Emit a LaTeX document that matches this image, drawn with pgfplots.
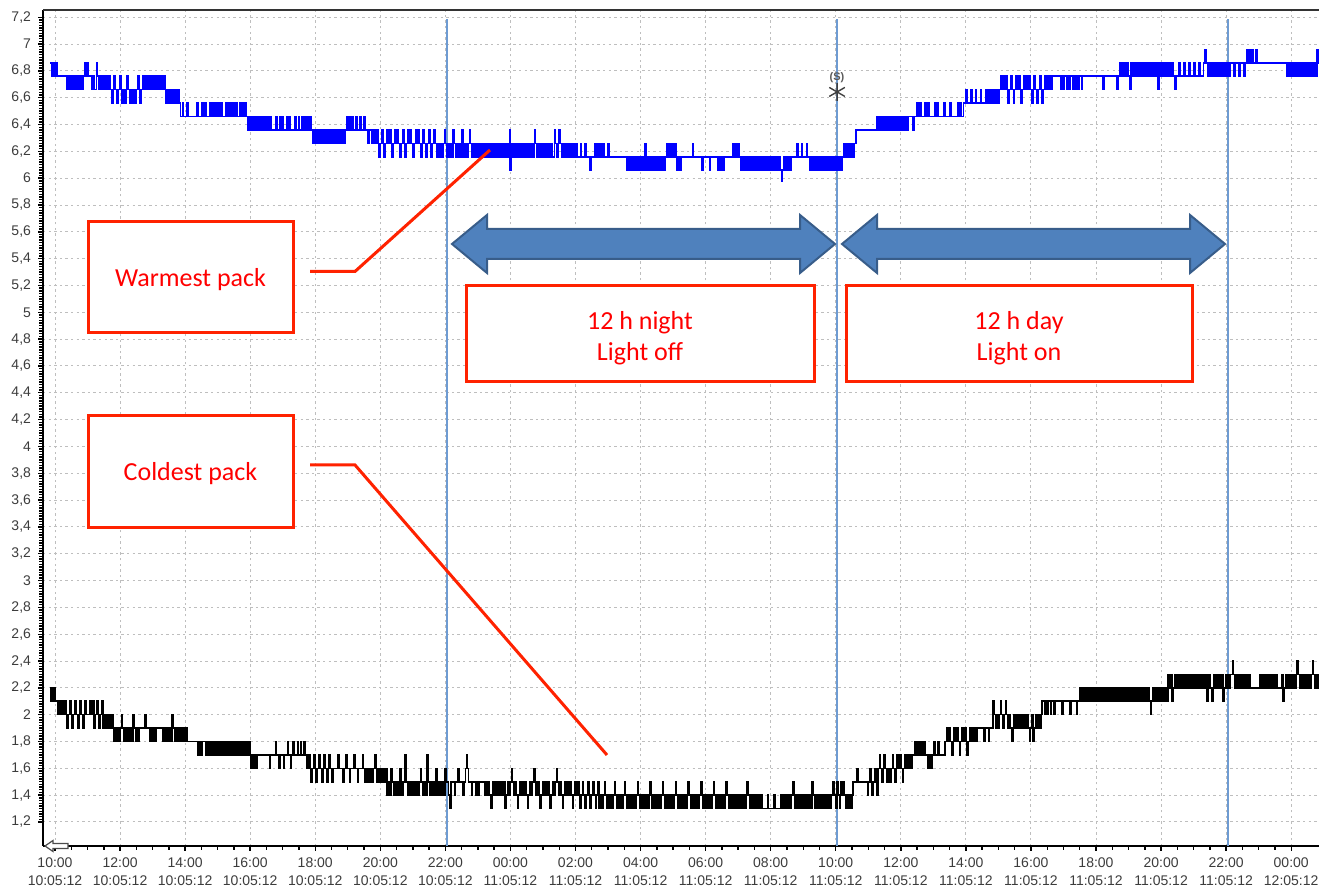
\documentclass[border=0pt]{standalone}
\usepackage{pgfplots}
\pgfplotsset{compat=1.18}
\usepackage{fontspec}
\setmainfont{Liberation Sans}
\newfontfamily\carlito{Carlito}
\definecolor{ticklab}{RGB}{60,60,60}
\definecolor{gridc}{RGB}{190,190,190}
\definecolor{vline}{RGB}{110,155,210}
\definecolor{arrfill}{RGB}{79,129,189}
\definecolor{arrdraw}{RGB}{56,93,138}
\definecolor{annred}{RGB}{255,34,0}
\definecolor{wblue}{RGB}{0,0,255}
\begin{document}
\begin{tikzpicture}
\begin{axis}[
  scale only axis, width=648.5pt, height=418pt,
  at={(21.5pt,20.5pt)}, anchor=south west,
  xmin=-0.369, xmax=39.5, ymin=1.021, ymax=7.254,
  axis x line*=bottom, axis y line*=left,
  xtick={0,2,...,38},
  xticklabels={{10:00\\10:05:12},{12:00\\10:05:12},{14:00\\10:05:12},{16:00\\10:05:12},{18:00\\10:05:12},{20:00\\10:05:12},{22:00\\10:05:12},{00:00\\11:05:12},{02:00\\11:05:12},{04:00\\11:05:12},{06:00\\11:05:12},{08:00\\11:05:12},{10:00\\11:05:12},{12:00\\11:05:12},{14:00\\11:05:12},{16:00\\11:05:12},{18:00\\11:05:12},{20:00\\11:05:12},{22:00\\11:05:12},{00:00\\12:05:12}},
  ytick={1.2,1.4,1.6,1.8,2,2.2,2.4,2.6,2.8,3,3.2,3.4,3.6,3.8,4,4.2,4.4,4.6,4.8,5,5.2,5.4,5.6,5.8,6,6.2,6.4,6.6,6.8,7,7.2},
  yticklabel style={/pgf/number format/.cd, fixed, precision=1, use comma, assume math mode=true},
  minor x tick num=3, minor y tick num=9,
  tick align=outside,
  major tick length=2.5pt, minor tick length=1.8pt,
  tick style={black, line width=0.7pt},
  grid=major,
  major grid style={gridc, line width=0.5pt, dash pattern=on 1.2pt off 1.6pt},
  axis line style={black, line width=1pt},
  ticklabel style={font=\fontsize{7}{9}\selectfont, text=ticklab},
  xticklabel style={align=center},
  clip=true,
]
% vertical markers
\addplot[vline, line width=1pt] coordinates {(12.05,1.021) (12.05,7.19)};
\addplot[vline, line width=1pt] coordinates {(24.05,1.021) (24.05,7.19)};
\addplot[vline, line width=1pt] coordinates {(36.06,1.021) (36.06,7.19)};
% warmest pack
\addplot[const plot, wblue, line width=0.8pt] coordinates {
(-0.15,6.86)(-0.11,6.76)(-0.08,6.86)(-0.04,6.76)(-0.01,6.86)(0.03,6.76)(0.05,6.86)(0.07,6.76)
(0.37,6.66)(0.42,6.76)(0.46,6.66)(0.51,6.76)(0.55,6.66)(0.6,6.76)(0.64,6.66)(0.69,6.76)(0.73,6.66)(0.78,6.76)(0.82,6.66)(0.86,6.76)
(0.92,6.86)(0.95,6.76)(1.01,6.86)(1.03,6.76)
(1.14,6.66)(1.18,6.76)(1.22,6.66)(1.27,6.76)(1.29,6.86)(1.31,6.76)(1.35,6.66)(1.4,6.76)(1.44,6.66)(1.49,6.76)
(1.54,6.66)(1.58,6.76)(1.62,6.66)(1.66,6.76)(1.7,6.66)(1.74,6.56)(1.78,6.66)(1.82,6.76)(1.86,6.66)(1.9,6.56)(1.94,6.66)(1.98,6.76)(2.02,6.66)(2.06,6.56)(2.1,6.66)(2.14,6.56)(2.18,6.66)(2.22,6.76)(2.26,6.66)(2.3,6.56)(2.34,6.66)(2.38,6.56)(2.42,6.66)(2.46,6.56)(2.5,6.66)(2.54,6.76)(2.58,6.66)(2.62,6.56)(2.66,6.66)
(2.71,6.76)(2.75,6.66)(2.8,6.76)(2.84,6.66)(2.89,6.76)(2.93,6.66)(2.98,6.76)(3.02,6.66)(3.07,6.76)(3.11,6.66)(3.16,6.76)(3.2,6.66)(3.25,6.76)(3.29,6.66)(3.34,6.76)
(3.38,6.66)(3.42,6.56)(3.46,6.66)(3.5,6.56)(3.54,6.66)(3.58,6.56)(3.62,6.66)(3.66,6.56)(3.7,6.66)(3.74,6.56)(3.78,6.66)(3.82,6.56)(3.86,6.46)
(3.92,6.56)(3.95,6.46)(4.06,6.56)(4.09,6.46)(4.37,6.56)(4.41,6.46)(4.52,6.56)(4.56,6.46)(4.6,6.56)(4.64,6.46)
(4.77,6.56)(4.81,6.46)(4.85,6.56)(4.89,6.46)(4.93,6.56)(4.97,6.46)(5.01,6.56)(5.05,6.46)(5.09,6.56)(5.13,6.46)(5.25,6.56)(5.29,6.46)(5.33,6.56)(5.37,6.46)(5.41,6.56)(5.45,6.46)(5.49,6.56)(5.53,6.46)(5.57,6.56)(5.61,6.46)(5.69,6.56)(5.73,6.46)(5.77,6.56)(5.81,6.46)(5.85,6.56)(5.89,6.46)
(5.93,6.36)(5.97,6.46)(6.01,6.36)(6.05,6.46)(6.09,6.36)(6.13,6.46)(6.17,6.36)(6.21,6.46)(6.25,6.36)(6.29,6.46)(6.33,6.36)(6.37,6.46)(6.41,6.36)(6.45,6.46)(6.49,6.36)(6.53,6.46)(6.57,6.36)(6.61,6.46)(6.65,6.36)
(6.78,6.46)(6.82,6.36)(6.9,6.46)(6.94,6.36)(6.98,6.46)(7.02,6.36)(7.12,6.46)(7.16,6.36)(7.2,6.46)(7.24,6.36)(7.36,6.46)(7.4,6.36)(7.48,6.46)(7.52,6.36)
(7.59,6.46)(7.63,6.36)(7.67,6.46)(7.71,6.36)(7.75,6.46)(7.79,6.36)(7.83,6.46)(7.87,6.36)
(7.93,6.26)(7.97,6.36)(8.01,6.26)(8.05,6.36)(8.09,6.26)(8.13,6.36)(8.17,6.26)(8.21,6.36)(8.25,6.26)(8.29,6.36)(8.33,6.26)(8.37,6.36)(8.41,6.26)(8.45,6.36)(8.49,6.26)(8.53,6.36)(8.57,6.26)(8.61,6.36)(8.65,6.26)(8.69,6.36)(8.73,6.26)(8.77,6.36)(8.81,6.26)(8.85,6.36)(8.89,6.26)
(8.92,6.36)(8.96,6.46)(9.0,6.36)(9.04,6.46)(9.08,6.36)(9.12,6.46)(9.16,6.36)(9.24,6.46)(9.28,6.36)(9.36,6.46)(9.4,6.36)(9.5,6.46)(9.54,6.36)(9.62,6.26)(9.66,6.36)(9.74,6.26)(9.78,6.36)
(9.84,6.26)(9.88,6.36)(9.92,6.26)(9.96,6.16)(10.0,6.26)(10.04,6.36)(10.08,6.26)(10.12,6.16)(10.16,6.26)(10.2,6.36)(10.24,6.26)(10.28,6.36)(10.32,6.26)(10.36,6.16)(10.4,6.26)(10.44,6.36)(10.48,6.26)(10.52,6.36)(10.56,6.26)(10.6,6.16)(10.64,6.26)(10.68,6.36)(10.72,6.26)(10.76,6.16)(10.8,6.26)(10.84,6.36)(10.88,6.26)(10.92,6.36)(10.96,6.26)(11.0,6.16)(11.04,6.26)(11.08,6.36)(11.12,6.26)(11.16,6.36)(11.2,6.26)(11.24,6.16)(11.28,6.26)(11.32,6.36)(11.36,6.26)(11.4,6.16)(11.44,6.26)(11.48,6.36)(11.52,6.26)(11.56,6.16)(11.6,6.26)(11.64,6.36)(11.68,6.26)
(11.74,6.16)(11.78,6.26)(11.82,6.16)(11.86,6.26)(11.9,6.16)(11.94,6.26)(11.98,6.36)(12.0,6.26)(12.04,6.16)(12.08,6.26)(12.12,6.16)(12.16,6.26)(12.2,6.16)(12.24,6.36)(12.27,6.26)(12.31,6.16)(12.35,6.26)(12.39,6.16)(12.43,6.26)(12.47,6.16)(12.51,6.36)(12.54,6.26)(12.58,6.16)(12.62,6.26)(12.66,6.16)(12.7,6.26)(12.74,6.36)(12.77,6.26)(12.81,6.16)(12.85,6.26)(12.89,6.16)(12.93,6.26)(12.97,6.16)(13.01,6.26)(13.05,6.16)(13.09,6.26)(13.13,6.16)(13.17,6.26)
(13.22,6.16)(13.26,6.26)(13.3,6.16)(13.34,6.26)(13.38,6.16)(13.42,6.26)(13.46,6.16)(13.5,6.26)(13.54,6.16)(13.58,6.26)(13.62,6.16)(13.66,6.26)(13.7,6.16)(13.74,6.26)(13.78,6.16)(13.82,6.26)(13.86,6.16)(13.9,6.26)(13.94,6.16)(13.97,6.36)(13.99,6.06)(14.01,6.26)(14.05,6.16)(14.09,6.26)(14.13,6.16)(14.17,6.26)(14.21,6.16)(14.25,6.26)(14.29,6.16)(14.33,6.26)(14.37,6.16)(14.41,6.26)(14.45,6.16)(14.49,6.26)(14.53,6.16)(14.57,6.26)(14.61,6.16)(14.65,6.26)(14.69,6.16)(14.74,6.36)(14.77,6.26)(14.81,6.16)(14.85,6.26)(14.89,6.16)(14.93,6.26)(14.97,6.16)(15.01,6.26)(15.05,6.16)(15.09,6.26)(15.13,6.16)(15.17,6.26)(15.21,6.16)(15.25,6.26)(15.29,6.16)(15.35,6.36)(15.38,6.26)(15.42,6.16)(15.46,6.26)(15.5,6.36)(15.53,6.26)(15.57,6.16)(15.61,6.26)(15.65,6.16)(15.69,6.26)(15.73,6.16)(15.77,6.26)(15.81,6.16)(15.85,6.26)(15.89,6.16)(15.93,6.26)(15.97,6.16)(16.01,6.26)
(16.05,6.16)(16.15,6.26)(16.19,6.16)(16.3,6.26)(16.34,6.16)(16.45,6.06)(16.48,6.16)(16.6,6.26)(16.64,6.16)(16.68,6.26)(16.72,6.16)(16.76,6.26)(16.8,6.16)(16.84,6.26)(16.88,6.16)(17.0,6.26)(17.04,6.16)
(17.58,6.06)(17.62,6.16)(17.66,6.06)(17.7,6.16)(17.74,6.06)(17.78,6.16)(17.82,6.06)(17.86,6.16)(17.9,6.06)(17.94,6.16)(17.98,6.06)(18.02,6.16)(18.06,6.06)(18.1,6.16)(18.14,6.26)(18.16,6.06)(18.2,6.16)(18.24,6.06)(18.28,6.16)(18.32,6.06)(18.36,6.16)(18.4,6.06)(18.44,6.16)(18.48,6.06)(18.52,6.16)(18.56,6.06)(18.6,6.16)(18.64,6.06)(18.68,6.16)(18.72,6.06)(18.76,6.16)
(18.81,6.26)(18.85,6.16)(18.89,6.26)(18.93,6.16)(18.97,6.26)(19.01,6.16)(19.05,6.26)(19.09,6.16)
(19.12,6.06)(19.16,6.16)(19.2,6.06)(19.24,6.16)
(19.6,6.26)(19.63,6.16)(19.88,6.06)(19.91,6.16)(20.12,6.06)(20.15,6.16)
(20.38,6.06)(20.42,6.16)(20.46,6.06)(20.5,6.16)(20.54,6.06)(20.58,6.16)
(20.84,6.26)(20.88,6.16)(20.92,6.26)(20.96,6.16)(21.0,6.26)(21.04,6.16)
(21.08,6.06)(21.12,6.16)(21.16,6.06)(21.2,6.16)(21.24,6.06)(21.28,6.16)(21.32,6.06)(21.36,6.16)(21.4,6.06)(21.44,6.16)(21.48,6.06)(21.52,6.16)(21.56,6.06)(21.6,6.16)(21.64,6.06)(21.68,6.16)(21.72,6.06)(21.76,6.16)(21.8,6.06)(21.84,6.16)(21.88,6.06)(21.92,6.16)(21.96,6.06)(22.0,6.16)(22.04,6.06)(22.08,6.16)(22.12,6.06)(22.16,6.16)(22.2,6.06)(22.24,6.16)(22.28,6.06)(22.33,5.98)(22.36,6.06)(22.4,6.16)(22.44,6.06)(22.48,6.16)(22.52,6.06)(22.56,6.16)(22.6,6.06)(22.64,6.16)
(22.8,6.26)(22.83,6.16)(22.95,6.26)(22.98,6.16)(23.1,6.26)(23.13,6.16)
(23.21,6.06)(23.25,6.16)(23.29,6.06)(23.33,6.16)(23.37,6.06)(23.41,6.16)(23.45,6.06)(23.49,6.16)(23.53,6.06)(23.57,6.16)(23.61,6.06)(23.65,6.16)(23.69,6.06)(23.73,6.16)(23.77,6.06)(23.81,6.16)(23.85,6.06)(23.89,6.16)(23.93,6.06)(23.97,6.16)(24.01,6.06)(24.05,6.16)(24.09,6.06)(24.13,6.16)(24.17,6.06)
(24.21,6.16)(24.25,6.26)(24.29,6.16)(24.33,6.26)(24.37,6.16)(24.41,6.26)(24.45,6.16)(24.49,6.26)(24.53,6.16)(24.57,6.26)
(24.62,6.36)
(25.27,6.46)(25.31,6.36)(25.35,6.46)(25.39,6.36)(25.43,6.46)(25.47,6.36)(25.51,6.46)(25.55,6.36)(25.59,6.46)(25.63,6.36)(25.67,6.46)(25.71,6.36)(25.75,6.46)(25.79,6.36)(25.83,6.46)(25.87,6.36)(25.91,6.46)(25.95,6.36)(25.99,6.46)(26.03,6.36)(26.07,6.46)(26.11,6.36)(26.15,6.46)(26.19,6.36)(26.23,6.46)
(26.37,6.36)(26.4,6.46)(26.5,6.56)(26.54,6.46)(26.58,6.56)(26.62,6.46)(26.75,6.56)(26.79,6.46)(26.83,6.56)(26.87,6.46)(27.03,6.56)(27.07,6.46)(27.11,6.56)(27.15,6.46)(27.33,6.56)(27.37,6.46)(27.52,6.56)(27.56,6.46)(27.74,6.56)(27.78,6.46)(27.82,6.56)(27.86,6.46)
(27.93,6.56)(28.0,6.66)(28.03,6.56)(28.15,6.66)(28.18,6.56)(28.3,6.66)(28.33,6.56)(28.45,6.66)(28.48,6.56)(28.62,6.66)(28.66,6.56)(28.7,6.66)(28.74,6.56)(28.78,6.66)(28.82,6.56)(28.86,6.66)(28.9,6.56)(28.94,6.66)(28.98,6.56)(29.02,6.66)
(29.06,6.76)(29.1,6.66)(29.14,6.76)(29.18,6.66)(29.22,6.76)(29.26,6.66)(29.3,6.56)(29.34,6.66)(29.38,6.76)(29.42,6.66)(29.46,6.56)(29.5,6.66)(29.54,6.76)(29.58,6.66)(29.62,6.76)(29.66,6.66)(29.7,6.56)(29.74,6.66)(29.78,6.76)(29.82,6.66)(29.86,6.76)(29.9,6.66)(29.94,6.76)(29.98,6.66)(30.02,6.56)(30.06,6.66)(30.1,6.76)(30.14,6.66)(30.18,6.56)(30.22,6.66)(30.26,6.76)(30.3,6.66)(30.34,6.56)(30.38,6.66)(30.42,6.76)(30.46,6.66)(30.5,6.76)(30.54,6.66)(30.58,6.76)(30.62,6.66)(30.66,6.76)
(30.92,6.66)(30.95,6.76)(31.0,6.66)(31.03,6.76)(31.1,6.66)(31.13,6.76)(31.18,6.66)(31.21,6.76)(31.28,6.66)(31.31,6.76)(31.36,6.66)(31.39,6.76)(31.45,6.66)(31.48,6.76)(31.55,6.66)(31.58,6.76)(32.2,6.66)(32.24,6.76)(32.65,6.66)(32.68,6.76)
(32.72,6.86)(32.76,6.76)(32.8,6.86)(32.84,6.76)(32.88,6.86)(32.92,6.76)(32.96,6.86)(33.0,6.76)(33.05,6.66)(33.08,6.86)(33.12,6.76)(33.16,6.86)(33.2,6.76)(33.24,6.86)(33.28,6.76)(33.32,6.86)(33.36,6.76)(33.4,6.86)(33.44,6.76)(33.48,6.86)(33.52,6.76)(33.56,6.86)(33.6,6.76)(33.64,6.86)(33.68,6.76)(33.72,6.86)(33.76,6.76)(33.8,6.86)(33.84,6.76)(33.88,6.86)(33.91,6.66)(33.94,6.86)(33.98,6.76)(34.02,6.86)(34.06,6.76)(34.1,6.86)(34.14,6.76)(34.18,6.86)(34.22,6.76)(34.26,6.86)(34.3,6.76)(34.34,6.86)(34.38,6.76)(34.43,6.66)(34.46,6.76)(34.55,6.86)(34.59,6.76)(34.7,6.86)(34.74,6.76)(34.85,6.86)(34.89,6.76)(35.0,6.86)(35.04,6.76)(35.15,6.86)(35.19,6.76)(35.3,6.86)
(35.35,6.96)(35.38,6.86)
(35.44,6.76)(35.48,6.86)(35.52,6.76)(35.56,6.86)(35.6,6.76)(35.64,6.86)(35.68,6.76)(35.72,6.86)(35.76,6.76)(35.8,6.86)(35.84,6.76)(35.88,6.86)(35.92,6.76)(35.96,6.86)(36.0,6.76)(36.04,6.86)(36.08,6.76)(36.12,6.86)(36.25,6.76)(36.29,6.86)(36.4,6.76)(36.44,6.86)(36.55,6.76)(36.59,6.86)
(36.64,6.96)(36.68,6.86)(36.72,6.96)(36.76,6.86)(36.8,6.96)(36.84,6.86)(36.92,6.96)(36.96,6.86)
(37.87,6.76)(37.91,6.86)(37.95,6.76)(37.99,6.86)(38.03,6.76)(38.07,6.86)(38.11,6.76)(38.15,6.86)(38.19,6.76)(38.23,6.86)(38.27,6.76)(38.31,6.86)(38.35,6.76)(38.39,6.86)(38.43,6.76)(38.47,6.86)(38.51,6.76)(38.55,6.86)(38.59,6.76)(38.63,6.86)(38.67,6.76)(38.71,6.86)(38.75,6.76)
(38.8,6.96)(38.84,6.86)(39.5,6.86)
};
% coldest pack
\addplot[const plot, black, line width=0.8pt] coordinates {
(-0.15,2.2)(-0.12,2.1)(-0.09,2.2)(-0.06,2.1)(-0.03,2.2)(0.0,2.1)
(0.09,2.0)(0.13,2.1)(0.17,2.0)(0.21,2.1)(0.25,2.0)(0.29,2.1)(0.33,2.0)(0.37,1.9)(0.41,2.0)(0.45,2.1)(0.49,2.0)(0.53,1.9)(0.57,2.0)(0.61,2.1)(0.65,2.0)(0.69,1.9)(0.73,2.0)(0.77,2.1)(0.81,2.0)(0.85,1.9)(0.89,2.0)(0.93,2.1)(0.97,2.0)
(1.08,2.1)(1.12,2.0)(1.16,2.1)(1.2,1.9)(1.24,2.0)(1.28,2.1)(1.32,2.0)(1.36,1.9)(1.4,2.0)(1.44,2.1)
(1.48,1.9)(1.52,2.0)(1.56,1.9)(1.6,2.0)(1.64,1.9)(1.68,2.0)(1.72,1.9)(1.76,2.0)
(1.8,1.8)(1.84,1.9)(1.88,1.8)(1.92,1.9)(1.96,1.8)(2.0,1.9)(2.04,2.0)(2.07,1.9)(2.11,1.8)(2.15,1.9)(2.19,1.8)(2.23,1.9)(2.27,1.8)(2.31,1.9)(2.35,1.8)(2.4,2.0)(2.43,1.9)(2.47,1.8)(2.51,1.9)(2.55,1.8)(2.59,1.9)
(2.77,2.0)(2.8,1.9)(2.92,1.8)(2.96,1.9)(3.0,1.8)(3.04,1.9)(3.08,1.8)(3.12,1.9)
(3.32,1.8)(3.36,1.9)(3.4,1.8)(3.44,1.9)(3.48,1.8)(3.52,1.9)(3.56,1.8)(3.6,2.0)(3.63,1.9)(3.67,1.8)(3.71,1.9)(3.75,1.8)(3.79,1.9)(3.83,1.8)(3.87,1.9)(3.91,1.8)(3.95,1.9)(3.99,1.8)(4.03,1.9)(4.06,1.8)
(4.4,1.7)(4.44,1.8)(4.48,1.7)(4.52,1.8)(4.64,1.7)(4.68,1.8)(4.72,1.7)(4.76,1.8)(4.8,1.7)(4.84,1.8)(4.88,1.7)(4.92,1.8)(4.96,1.7)(5.0,1.8)(5.04,1.7)(5.08,1.8)(5.12,1.7)(5.16,1.8)(5.2,1.7)(5.24,1.8)(5.28,1.7)(5.32,1.8)(5.36,1.7)(5.4,1.8)(5.44,1.7)(5.48,1.8)(5.52,1.7)(5.56,1.8)(5.6,1.7)(5.64,1.8)(5.68,1.7)(5.72,1.8)(5.76,1.7)(5.8,1.8)(5.84,1.7)(5.88,1.8)(5.92,1.7)(5.96,1.8)
(5.99,1.7)(6.03,1.6)(6.07,1.7)(6.11,1.6)(6.15,1.7)(6.19,1.6)(6.23,1.7)
(6.6,1.6)(6.63,1.7)
(6.78,1.8)(6.81,1.7)(6.88,1.6)(6.91,1.7)(7.02,1.6)(7.05,1.7)(7.15,1.8)(7.18,1.7)(7.24,1.6)(7.27,1.7)(7.32,1.8)(7.35,1.7)(7.45,1.8)(7.48,1.7)(7.55,1.8)(7.58,1.7)(7.65,1.8)(7.68,1.7)
(7.75,1.6)(7.79,1.7)(7.83,1.6)(7.87,1.5)(7.91,1.6)(7.95,1.7)(7.99,1.6)(8.03,1.5)(8.07,1.6)(8.11,1.7)(8.15,1.6)(8.19,1.5)(8.23,1.6)(8.27,1.7)(8.31,1.6)(8.35,1.5)(8.39,1.6)(8.43,1.7)(8.47,1.6)(8.51,1.5)(8.55,1.6)
(8.7,1.7)(8.73,1.6)(8.85,1.5)(8.88,1.6)(8.95,1.7)(8.98,1.6)(9.05,1.5)(9.08,1.6)(9.2,1.7)(9.23,1.6)(9.3,1.5)(9.33,1.6)(9.45,1.7)(9.48,1.6)(9.52,1.5)(9.55,1.6)
(9.59,1.5)(9.63,1.6)(9.67,1.5)(9.71,1.6)(9.75,1.5)(9.79,1.6)(9.83,1.7)(9.86,1.6)(9.9,1.5)(9.94,1.6)(9.98,1.5)(10.02,1.6)(10.06,1.5)(10.1,1.6)(10.14,1.5)(10.18,1.6)
(10.21,1.4)(10.25,1.5)(10.29,1.4)(10.33,1.6)(10.36,1.5)(10.4,1.4)(10.44,1.5)(10.48,1.4)(10.52,1.5)(10.56,1.4)(10.6,1.6)(10.63,1.5)(10.67,1.4)(10.71,1.5)(10.76,1.7)(10.79,1.5)(10.83,1.4)(10.87,1.5)(10.91,1.4)(10.95,1.5)(10.99,1.4)(11.03,1.5)(11.07,1.4)(11.11,1.5)(11.15,1.4)(11.19,1.5)(11.23,1.6)(11.26,1.5)(11.3,1.4)(11.34,1.5)(11.38,1.4)(11.44,1.7)(11.47,1.5)(11.51,1.4)(11.55,1.5)(11.59,1.4)(11.63,1.5)(11.67,1.4)(11.71,1.6)(11.74,1.5)(11.78,1.4)(11.82,1.5)(11.86,1.4)(11.9,1.5)(11.94,1.4)(11.98,1.6)(12.01,1.5)
(12.1,1.4)(12.14,1.3)(12.17,1.5)(12.28,1.4)(12.31,1.5)(12.38,1.6)(12.41,1.5)(12.55,1.4)(12.58,1.5)(12.62,1.6)(12.65,1.7)(12.68,1.6)(12.71,1.5)(12.8,1.4)(12.83,1.5)
(12.92,1.4)(12.96,1.5)(13.0,1.4)(13.04,1.5)(13.2,1.4)(13.24,1.5)(13.28,1.4)(13.32,1.5)(13.36,1.4)(13.4,1.3)(13.43,1.4)(13.47,1.5)(13.51,1.4)(13.55,1.5)(13.59,1.4)(13.63,1.5)
(13.68,1.4)(13.72,1.5)(13.76,1.4)(13.8,1.5)(13.84,1.3)(13.87,1.4)(13.91,1.5)(13.95,1.4)(13.99,1.5)(14.03,1.6)(14.06,1.5)(14.1,1.4)(14.14,1.5)(14.18,1.4)(14.22,1.3)(14.25,1.4)(14.29,1.5)(14.33,1.4)(14.37,1.5)(14.41,1.4)(14.45,1.5)(14.49,1.4)(14.53,1.3)(14.56,1.4)(14.6,1.5)(14.64,1.4)(14.68,1.5)(14.72,1.6)(14.75,1.5)(14.79,1.4)(14.83,1.5)(14.87,1.4)(14.91,1.3)(14.94,1.4)(14.98,1.5)(15.02,1.4)(15.06,1.5)(15.1,1.4)(15.14,1.5)(15.18,1.4)(15.22,1.3)(15.25,1.4)(15.29,1.5)(15.33,1.4)(15.37,1.5)(15.41,1.6)(15.44,1.5)(15.48,1.4)(15.52,1.5)(15.56,1.4)(15.6,1.3)(15.63,1.4)(15.67,1.5)(15.71,1.4)(15.75,1.5)(15.79,1.4)(15.83,1.5)(15.87,1.4)(15.91,1.3)(15.94,1.4)(15.98,1.5)(16.02,1.4)(16.06,1.5)(16.1,1.4)(16.14,1.3)(16.17,1.4)(16.21,1.5)(16.25,1.4)(16.29,1.3)(16.33,1.4)(16.37,1.5)(16.41,1.4)(16.45,1.3)(16.49,1.4)(16.53,1.5)(16.57,1.4)(16.61,1.3)(16.65,1.4)(16.69,1.5)
(16.73,1.3)(16.77,1.4)(16.81,1.3)(16.85,1.4)(16.89,1.5)(16.92,1.4)(16.96,1.3)(17.0,1.4)(17.04,1.3)(17.08,1.4)(17.12,1.3)(17.16,1.4)(17.2,1.5)(17.23,1.4)(17.27,1.3)(17.31,1.4)(17.35,1.3)(17.39,1.4)(17.43,1.3)(17.47,1.4)(17.51,1.5)(17.54,1.4)(17.58,1.3)(17.62,1.4)(17.66,1.3)(17.7,1.4)(17.74,1.3)(17.78,1.4)(17.82,1.3)(17.86,1.4)(17.9,1.5)(17.93,1.4)(17.97,1.3)(18.01,1.4)(18.05,1.3)(18.09,1.4)(18.13,1.3)(18.17,1.4)(18.21,1.3)(18.25,1.4)(18.29,1.5)(18.32,1.4)(18.36,1.3)(18.4,1.4)(18.44,1.3)(18.48,1.4)(18.52,1.3)(18.56,1.4)(18.6,1.3)(18.64,1.4)(18.68,1.5)(18.71,1.4)(18.75,1.3)(18.79,1.4)(18.83,1.3)(18.87,1.4)(18.91,1.3)(18.95,1.4)(18.99,1.3)(19.03,1.4)(19.07,1.5)(19.1,1.4)(19.14,1.3)(19.18,1.4)(19.22,1.3)(19.26,1.4)(19.3,1.3)(19.34,1.4)(19.38,1.3)(19.42,1.4)(19.46,1.5)(19.49,1.4)(19.53,1.3)(19.57,1.4)(19.61,1.3)(19.65,1.4)(19.69,1.3)(19.73,1.4)(19.77,1.3)(19.81,1.4)(19.85,1.5)(19.88,1.4)(19.92,1.3)(19.96,1.4)(20.0,1.3)(20.04,1.4)(20.08,1.3)(20.12,1.4)(20.16,1.3)(20.2,1.4)(20.24,1.5)(20.27,1.4)(20.31,1.3)(20.35,1.4)(20.39,1.3)(20.43,1.4)(20.47,1.3)(20.51,1.4)(20.55,1.3)(20.59,1.4)(20.63,1.5)(20.66,1.4)(20.7,1.3)(20.74,1.4)(20.78,1.3)(20.82,1.4)(20.86,1.3)(20.9,1.4)(20.94,1.3)
(21.0,1.4)(21.04,1.3)(21.08,1.4)(21.12,1.3)(21.16,1.4)(21.2,1.3)(21.24,1.4)(21.28,1.5)(21.31,1.4)(21.35,1.3)(21.39,1.4)(21.43,1.3)(21.47,1.4)(21.51,1.3)(21.55,1.4)(21.59,1.3)(21.63,1.4)(21.67,1.3)(21.71,1.4)(21.75,1.3)(21.9,1.4)(21.93,1.3)(22.1,1.4)(22.13,1.3)
(22.3,1.4)(22.34,1.3)(22.38,1.4)(22.42,1.3)(22.46,1.4)(22.5,1.3)(22.54,1.4)(22.58,1.3)(22.62,1.4)(22.67,1.5)(22.71,1.4)(22.75,1.3)(22.79,1.4)(22.83,1.3)(22.87,1.4)(22.91,1.3)(22.95,1.4)(22.99,1.3)(23.03,1.4)(23.07,1.3)(23.11,1.4)(23.15,1.3)(23.19,1.4)(23.23,1.3)(23.27,1.5)(23.31,1.4)(23.35,1.3)(23.39,1.4)(23.43,1.3)(23.47,1.4)(23.51,1.3)(23.55,1.4)(23.59,1.3)(23.63,1.4)(23.67,1.3)(23.71,1.4)(23.75,1.3)(23.79,1.4)(23.83,1.3)(23.87,1.4)(23.91,1.5)(23.95,1.4)(23.99,1.3)(24.03,1.5)(24.07,1.4)(24.11,1.3)(24.15,1.5)(24.19,1.4)(24.23,1.5)(24.27,1.4)(24.31,1.3)(24.35,1.4)(24.39,1.3)(24.43,1.4)(24.47,1.3)(24.51,1.4)
(24.53,1.5)(24.65,1.6)(24.68,1.5)
(24.97,1.4)(25.0,1.5)(25.04,1.6)(25.08,1.5)(25.12,1.4)(25.15,1.5)(25.19,1.6)(25.23,1.5)(25.27,1.4)(25.3,1.6)(25.34,1.7)(25.37,1.6)(25.41,1.5)(25.45,1.6)(25.49,1.7)(25.52,1.6)(25.56,1.5)(25.6,1.6)(25.64,1.5)
(25.7,1.6)(25.74,1.7)(25.78,1.6)(25.82,1.5)(25.85,1.6)(25.89,1.7)(25.93,1.6)(25.97,1.7)(26.01,1.6)(26.05,1.5)(26.08,1.6)(26.12,1.7)(26.16,1.6)(26.2,1.7)(26.24,1.6)(26.28,1.7)(26.32,1.6)
(26.36,1.7)(26.42,1.8)(26.46,1.7)(26.52,1.8)(26.56,1.7)(26.62,1.8)(26.66,1.7)(26.72,1.8)(26.76,1.7)(26.82,1.6)(26.86,1.7)(26.92,1.6)(26.96,1.7)(27.02,1.8)(27.06,1.7)(27.14,1.8)(27.18,1.7)
(27.36,1.8)(27.4,1.9)(27.44,1.8)(27.48,1.9)(27.52,1.8)(27.56,1.7)(27.6,1.8)(27.64,1.9)(27.68,1.8)(27.72,1.9)(27.76,1.8)(27.8,1.7)(27.84,1.8)(27.88,1.9)(27.92,1.8)(27.96,1.9)(28.0,1.8)(28.04,1.7)(28.08,1.8)(28.12,1.9)(28.16,1.8)(28.2,1.9)(28.24,1.8)(28.28,1.9)(28.32,1.8)(28.36,1.9)
(28.55,1.8)(28.58,1.9)(28.7,1.8)(28.73,1.9)
(28.84,2.1)(28.87,2.0)(28.91,1.9)(28.95,2.0)(28.99,1.9)(29.03,2.0)(29.07,2.1)(29.1,2.0)(29.14,1.9)(29.18,2.0)(29.22,2.1)(29.25,2.0)(29.29,1.9)(29.33,2.0)(29.37,1.9)(29.41,1.8)(29.44,1.9)(29.48,2.0)(29.52,1.9)(29.56,2.0)(29.6,1.9)(29.64,2.0)(29.68,1.9)(29.72,2.0)(29.76,1.9)(29.8,2.0)(29.84,1.9)(29.88,2.0)(29.92,1.9)(29.96,1.8)(29.99,1.9)(30.03,2.0)(30.07,1.8)(30.1,1.9)(30.14,2.0)(30.18,1.9)(30.22,2.0)(30.26,1.9)(30.3,2.0)(30.34,2.1)
(30.42,2.0)(30.45,2.1)(30.5,2.0)(30.53,2.1)(30.6,2.0)(30.63,2.1)(30.7,2.0)(30.73,2.1)(30.95,2.0)(30.98,2.1)(31.2,2.0)(31.23,2.1)(31.4,2.0)(31.43,2.1)
(31.5,2.2)(31.54,2.1)(31.58,2.2)(31.62,2.1)(31.66,2.2)(31.7,2.1)(31.74,2.2)(31.78,2.1)(31.82,2.2)(31.86,2.1)(31.9,2.2)(31.94,2.1)(31.98,2.2)(32.02,2.1)(32.06,2.2)(32.1,2.1)(32.14,2.2)(32.18,2.1)(32.22,2.2)(32.26,2.1)(32.3,2.2)(32.34,2.1)(32.38,2.2)(32.42,2.1)(32.46,2.2)(32.5,2.1)(32.54,2.2)(32.58,2.1)(32.62,2.2)(32.66,2.1)(32.7,2.2)(32.74,2.1)(32.78,2.2)(32.82,2.1)(32.86,2.2)(32.9,2.1)(32.94,2.2)(32.98,2.1)(33.02,2.2)(33.06,2.1)(33.1,2.2)(33.14,2.1)(33.18,2.2)(33.22,2.1)(33.26,2.2)(33.3,2.1)(33.34,2.2)(33.38,2.1)(33.42,2.2)(33.46,2.1)(33.5,2.2)(33.54,2.1)(33.58,2.2)(33.62,2.1)(33.67,2.0)(33.7,2.1)(33.74,2.2)(33.78,2.1)(33.82,2.2)(33.86,2.1)(33.9,2.2)(33.94,2.1)(33.98,2.2)(34.02,2.1)(34.06,2.2)(34.1,2.1)(34.14,2.2)(34.18,2.1)
(34.22,2.3)(34.26,2.2)(34.3,2.3)(34.34,2.1)(34.37,2.2)(34.41,2.3)(34.45,2.2)(34.49,2.3)(34.53,2.2)(34.57,2.3)(34.61,2.2)(34.65,2.3)(34.69,2.2)(34.73,2.3)(34.77,2.2)(34.81,2.3)(34.85,2.2)(34.89,2.3)(34.93,2.2)(34.97,2.3)(35.01,2.2)(35.05,2.3)(35.09,2.2)(35.13,2.3)(35.17,2.2)(35.21,2.3)(35.25,2.2)(35.29,2.3)(35.33,2.2)(35.37,2.3)(35.41,2.1)(35.44,2.2)(35.48,2.3)(35.52,2.2)(35.56,2.1)(35.59,2.2)(35.63,2.3)(35.67,2.2)(35.71,2.3)(35.75,2.2)(35.79,2.3)(35.83,2.2)(35.87,2.3)(35.91,2.1)(35.94,2.2)(35.98,2.3)(36.02,2.2)(36.06,2.3)(36.1,2.2)(36.14,2.3)(36.19,2.4)(36.22,2.3)(36.26,2.2)(36.3,2.3)(36.34,2.2)(36.38,2.3)(36.42,2.2)(36.46,2.3)(36.5,2.2)(36.54,2.3)(36.58,2.2)(36.62,2.3)(36.66,2.2)(36.7,2.3)(36.74,2.2)
(37.04,2.3)(37.08,2.2)(37.12,2.3)(37.16,2.2)(37.2,2.3)(37.24,2.2)(37.28,2.3)(37.32,2.2)(37.36,2.3)(37.4,2.2)(37.44,2.3)(37.48,2.2)(37.52,2.3)(37.56,2.2)
(37.7,2.3)(37.75,2.1)(37.78,2.2)(37.82,2.3)(37.86,2.2)(37.9,2.3)(37.94,2.2)(37.98,2.3)(38.02,2.2)(38.06,2.3)(38.1,2.2)(38.14,2.3)(38.18,2.4)(38.21,2.3)(38.25,2.2)(38.29,2.3)(38.33,2.2)(38.37,2.3)(38.41,2.2)(38.45,2.3)(38.49,2.2)(38.53,2.3)(38.57,2.2)(38.61,2.3)(38.66,2.4)(38.69,2.3)(38.73,2.2)(38.77,2.3)(38.81,2.2)(38.85,2.3)(38.89,2.2)(39.5,2.2)
};
% set point marker
\addplot[only marks, mark=asterisk, mark size=4.5pt, draw=black!75, line width=0.7pt,
  nodes near coords={(S)}, every node near coord/.style={font=\fontsize{5.5}{6}\selectfont\bfseries, text=black!65, above, yshift=1pt}]
  coordinates {(24.04,6.643)};
\end{axis}
\begin{scope}[shift={(0pt,443.5pt)}, x=0.5pt, y=-0.5pt]
  % top border of the plot area
  \draw[black!80, line width=0.8pt] (43,10) -- (1330,10);
  % double arrows
  \filldraw[fill=arrfill, draw=arrdraw, line width=1pt, line join=miter]
    (452,244) -- (487,215) -- (487,229) -- (800,229) -- (800,215) -- (835,244) -- (800,273) -- (800,259) -- (487,259) -- (487,273) -- cycle;
  \filldraw[fill=arrfill, draw=arrdraw, line width=1pt, line join=miter]
    (842,244) -- (877,215) -- (877,229) -- (1190,229) -- (1190,215) -- (1225,244) -- (1190,273) -- (1190,259) -- (877,259) -- (877,273) -- cycle;
  % boxes
  \draw[annred, line width=1.5pt, fill=white] (88,222) rectangle (293,333);
  \draw[annred, line width=1.5pt, fill=white] (88,416) rectangle (293,528);
  \draw[annred, line width=1.5pt, fill=white] (466,286) rectangle (814,382);
  \draw[annred, line width=1.5pt, fill=white] (846,286) rectangle (1192,382);
  \node[text=red, font=\carlito\fontsize{13}{15.5}\selectfont] at (190.5,280) {Warmest pack};
  \node[text=red, font=\carlito\fontsize{13}{15.5}\selectfont] at (190.5,474) {Coldest pack};
  \node[text=red, font=\carlito\fontsize{13}{15.5}\selectfont, align=center] at (640,338) {12 h night\\Light off};
  \node[text=red, font=\carlito\fontsize{13}{15.5}\selectfont, align=center] at (1019,338) {12 h day\\Light on};
  % leader lines
  \draw[annred, line width=1.5pt] (310,271.5) -- (355,271.5) -- (490,150);
  \draw[annred, line width=1.5pt] (310,465) -- (355,465) -- (607,755);
  % scroll arrow icon
  \filldraw[fill=white, draw=black!70, line width=0.6pt] (45,846) -- (53,840.5) -- (53,843.5) -- (68,843.5) -- (68,848.5) -- (53,848.5) -- (53,851.5) -- cycle;
\end{scope}
\pgfresetboundingbox
\path[use as bounding box] (0,0) rectangle (659.5pt,443.5pt);
\end{tikzpicture}
\end{document}
